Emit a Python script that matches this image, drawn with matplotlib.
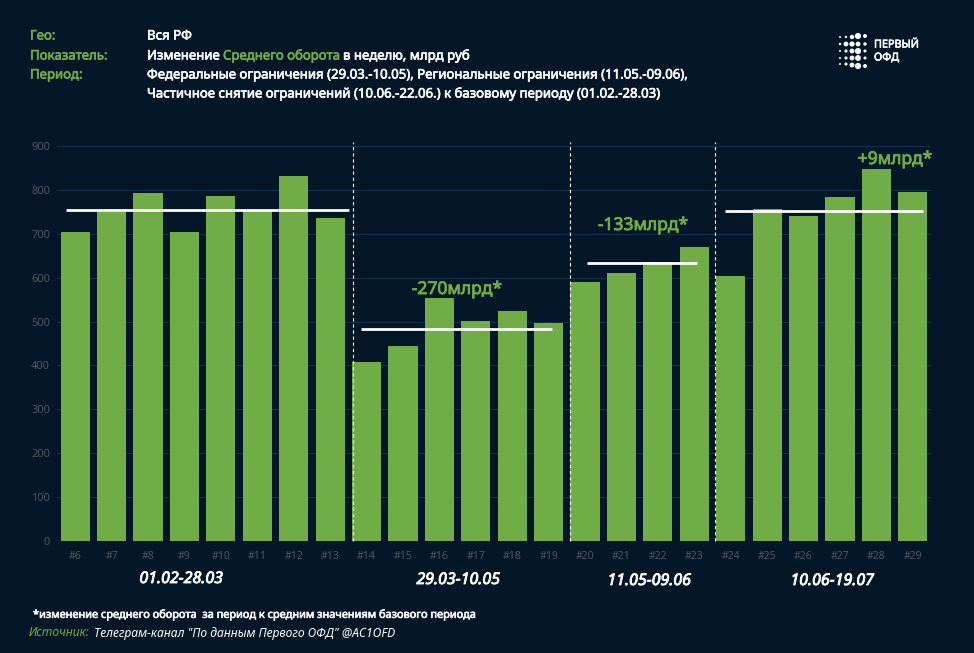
import matplotlib
matplotlib.use('Agg')
import numpy as np
import matplotlib.pyplot as plt
import matplotlib.patheffects as pe

plt.rcParams['font.family'] = ['Noto Sans', 'DejaVu Sans']

weeks = ['#6', '#7', '#8', '#9', '#10', '#11', '#12', '#13', '#14', '#15', '#16', '#17',
         '#18', '#19', '#20', '#21', '#22', '#23', '#24', '#25', '#26', '#27', '#28', '#29']
turnover = [705, 750, 793, 705, 785, 755, 832, 735, 408, 445, 553, 502,
            525, 497, 590, 610, 635, 670, 603, 757, 740, 783, 848, 795]
yticks = [0, 100, 200, 300, 400, 500, 600, 700, 800, 900]

# period averages: first week pos, last week pos, level
mean_start = [-0.25, 7.85, 14.05, 17.85]
mean_end = [7.53, 13.08, 17.07, 23.27]
mean_level = [755, 484, 633, 753]
dividers = [7.63, 13.59, 17.57]

period_labels = ['01.02-28.03', '29.03-10.05', '11.05-09.06', '10.06-19.07']
delta_labels = ['-270млрд*', '-133млрд*', '+9млрд*']

BG = '#021628'
GREEN = '#70ad47'
W, H = 974, 653

fig = plt.figure(figsize=(9.74, 6.53), dpi=100, facecolor=BG)
ax = fig.add_axes([57 / W, 1 - 541 / H, 874 / W, 395 / H], facecolor=BG)

x = np.arange(len(weeks))
ax.bar(x, turnover, width=0.8, color=GREEN, zorder=2)
ax.set_xlim(-0.5, 23.5)
ax.set_ylim(0, 900)
ax.set_yticks(yticks)
ax.set_xticks(x)
ax.set_xticklabels(weeks)
ax.tick_params(length=0, labelsize=7.5, labelcolor='#4c5762', pad=7)
ax.tick_params(axis='y', labelsize=8, pad=5)
ax.grid(axis='y', color='#12304a', lw=0.8, zorder=0)
for s in ax.spines.values():
    s.set_visible(False)

for a, b, lvl in zip(mean_start, mean_end, mean_level):
    ax.plot([a, b], [lvl, lvl], color='white', lw=2.0, zorder=4, solid_capstyle='butt')
for d in dividers:
    ax.plot([d, d], [0, 908], color='white', lw=0.8, ls=(0, (3, 2.5)), zorder=5, clip_on=False)


def txt(px, py, s, bold=0.45, **kw):
    # the installed Noto Sans has no bold face here, so thicken it with a stroke
    kw.setdefault('color', 'white')
    kw.setdefault('fontsize', 9.5)
    kw.setdefault('va', 'center')
    t = fig.text(px / W, 1 - (py + 2) / H, s, **kw)
    if bold:
        t.set_path_effects([pe.withStroke(linewidth=bold, foreground=kw['color'])])
    return t


# header
txt(30, 34, 'Гео:', color=GREEN)
txt(30, 54, 'Показатель:', color=GREEN)
txt(30, 73, 'Период:', color=GREEN)
txt(147, 34, 'Вся РФ')
txt(147, 54, 'Изменение')
txt(223, 54, 'Среднего оборота', color=GREEN)
txt(343, 54, 'в неделю, млрд руб')
txt(147, 73, 'Федеральные ограничения (29.03.-10.05), Региональные ограничения (11.05.-09.06),')
txt(147, 92, 'Частичное снятие ограничений (10.06.-22.06.) к базовому периоду (01.02.-28.03)')

# logo
logo_x = [840, 846, 852, 858, 865, 840, 846, 852, 858, 865, 840, 846, 852, 858, 865,
          840, 846, 852, 858, 865, 840, 846, 852, 858, 865]
logo_y = [37, 37, 37, 36, 36, 44, 44, 44, 44, 44, 51, 51, 51, 51, 51,
          58, 58, 58, 58, 58, 64, 64, 65, 66, 66]
logo_s = [2, 3, 10, 20, 8, 3, 12, 14, 12, 6, 2, 5, 12, 20, 5, 2, 5, 12, 18, 5, 2, 5, 12, 20, 8]
logo = fig.add_axes([0, 0, 1, 1], facecolor='none')
logo.set_xlim(0, W)
logo.set_ylim(H, 0)
logo.axis('off')
logo.scatter(logo_x, logo_y, s=logo_s, color='white', lw=0)
txt(874, 43, 'ПЕРВЫЙ', fontsize=7.8)
txt(874, 56, 'ОФД', fontsize=7.8)

# delta labels over the periods
txt(457, 287, delta_labels[0], color=GREEN, fontsize=12.6, ha='center', bold=0.6)
txt(643, 223, delta_labels[1], color=GREEN, fontsize=12.6, ha='center', bold=0.6)
txt(895, 157, delta_labels[2], color=GREEN, fontsize=12.6, ha='center', bold=0.6)

# period captions
for px, py, s in zip([181, 458, 649, 832], [577, 578, 579, 579], period_labels):
    txt(px, py, s, fontsize=11.5, style='italic', ha='center', bold=0.6)

txt(33, 613, '*изменение среднего оборота  за период к средним значениям базового периода', fontsize=7.9)
txt(29, 631, 'Источник:', color=GREEN, fontsize=8.7, style='italic', bold=0)
txt(94, 631, 'Телеграм-канал "По данным Первого ОФД" @AC1OFD', fontsize=8.7, style='italic', bold=0)

fig.savefig('out.png', dpi=100, facecolor=BG)
